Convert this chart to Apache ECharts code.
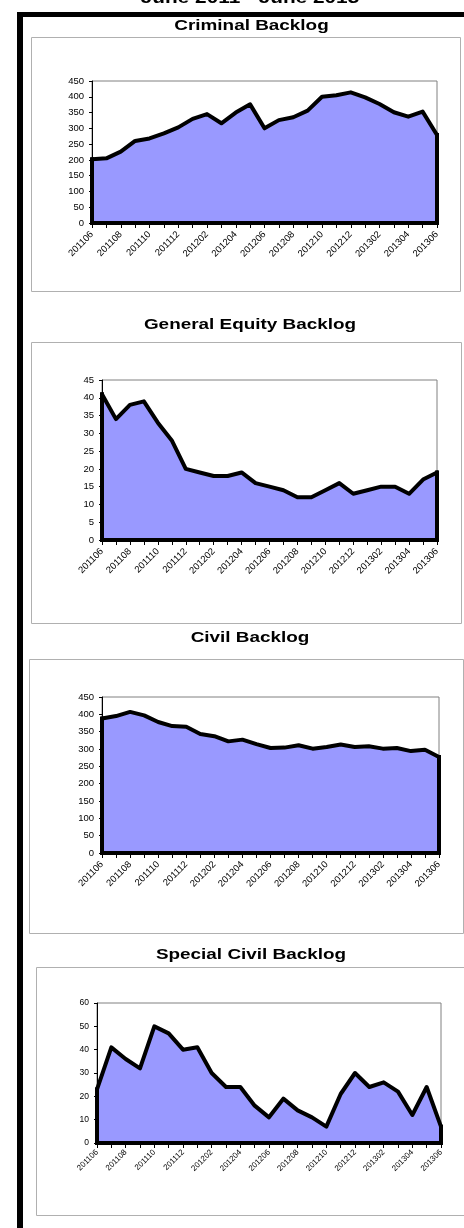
<!DOCTYPE html>
<html>
<head>
<meta charset="utf-8">
<style>
html,body{margin:0;padding:0;background:#fff;}
#c{width:464px;height:1228px;}
</style>
<script src="https://cdn.jsdelivr.net/npm/echarts@6/dist/echarts.min.js"></script>
</head>
<body>
<div id="c"></div>
<script>
// ---- data ----
const months = ['201106','201107','201108','201109','201110','201111','201112',
  '201201','201202','201203','201204','201205','201206','201207','201208','201209','201210','201211','201212',
  '201301','201302','201303','201304','201305','201306'];
const criminalBacklog = [202,205,226,260,268,284,303,330,345,316,350,376,300,326,335,356,400,405,414,398,377,351,337,353,279];
const generalEquityBacklog = [41,34,38,39,33,28,20,19,18,18,19,16,15,14,12,12,14,16,13,14,15,15,13,17,19];
const civilBacklog = [388,395,407,397,378,366,364,343,337,322,327,314,303,304,311,301,306,313,306,308,301,303,294,298,277];
const specialCivilBacklog = [23,41,36,32,50,47,40,41,30,24,24,16,11,19,14,11,7,21,30,24,26,22,12,24,7];
const criminalTicks = {max:450, step:50};
const equityTicks = {max:45, step:5};
const civilTicks = {max:450, step:50};
const specialTicks = {max:60, step:10};
const pageTitle = 'June 2011 - June 2013';
const chartTitles = ['Criminal Backlog','General Equity Backlog','Civil Backlog','Special Civil Backlog'];

// ---- layout ----
const panels = [
  {title:chartTitles[0], values:criminalBacklog, ticks:criminalTicks, tx:251.5, ty:26,
   box:{x:31, y:37, w:429, h:254, right:true}, grid:{left:92, top:81, width:345, height:142}, yfs:9.5, xfs:9.5, xm:10},
  {title:chartTitles[1], values:generalEquityBacklog, ticks:equityTicks, tx:250, ty:325,
   box:{x:31, y:342, w:430, h:281, right:true}, grid:{left:102, top:380, width:335, height:160}, yfs:9.5, xfs:9.5, xm:10},
  {title:chartTitles[2], values:civilBacklog, ticks:civilTicks, tx:250, ty:638,
   box:{x:29, y:659, w:434, h:274, right:true}, grid:{left:102, top:697, width:337, height:156}, yfs:9.5, xfs:9.5, xm:10},
  {title:chartTitles[3], values:specialCivilBacklog, ticks:specialTicks, tx:251, ty:955,
   box:{x:36, y:967, w:440, h:248, right:false}, grid:{left:97, top:1003, width:344, height:140}, yfs:8.5, xfs:8, xm:8}
];

const chart = echarts.init(document.getElementById('c'), null, {renderer:'canvas'});
const grids = [], xAxes = [], yAxes = [], series = [], graphics = [];

// black frame bars
graphics.push({type:'rect', shape:{x:17, y:12, width:447, height:5}, style:{fill:'#000'}, z:100});
graphics.push({type:'rect', shape:{x:17, y:12, width:6, height:1216}, style:{fill:'#000'}, z:100});
// page title (cut off at top)
graphics.push({type:'text', x:250, y:-2, scaleX:1.26, z:100,
  style:{text:pageTitle, fill:'#000', fontFamily:'Liberation Sans', fontWeight:'bold', fontSize:16.5, align:'center', verticalAlign:'middle'}});

panels.forEach((p, i) => {
  const b = p.box;
  const boxColor = '#b0b0b0';
  const x0 = b.x + 0.5, y0 = b.y + 0.5, x1 = b.x + b.w + 0.5, y1 = b.y + b.h + 0.5;
  const pts = b.right ? [[x0,y0],[x1,y0],[x1,y1],[x0,y1],[x0,y0]] : [[464,y0],[x0,y0],[x0,y1],[464,y1]];
  graphics.push({type:'polyline', shape:{points:pts}, style:{stroke:boxColor, lineWidth:1, fill:null}, z:1});
  graphics.push({type:'text', x:p.tx, y:p.ty, scaleX:1.26, z:100,
    style:{text:p.title, fill:'#000', fontFamily:'Liberation Sans', fontWeight:'bold', fontSize:15, align:'center', verticalAlign:'middle'}});

  grids.push(Object.assign({show:true, borderColor:'#808080', borderWidth:1, backgroundColor:'#fff', containLabel:false}, p.grid));
  xAxes.push({
    type:'category', gridIndex:i, data:months, boundaryGap:false,
    axisLine:{show:true, lineStyle:{color:'#000', width:1}},
    axisTick:{show:true, interval:0, length:5, lineStyle:{color:'#000', width:1}},
    axisLabel:{show:true, interval:1, rotate:45, margin:p.xm, color:'#000', fontFamily:'Liberation Sans', fontSize:p.xfs},
    splitLine:{show:false}
  });
  yAxes.push({
    type:'value', gridIndex:i, min:0, max:p.ticks.max, interval:p.ticks.step,
    axisLine:{show:true, lineStyle:{color:'#000', width:1}},
    axisTick:{show:true, length:3, lineStyle:{color:'#000', width:1}},
    axisLabel:{show:true, margin:8, color:'#000', fontFamily:'Liberation Sans', fontSize:p.yfs},
    splitLine:{show:false}
  });
  const first = months[0], last = months[months.length-1];
  const v = p.values;
  series.push({
    type:'line', xAxisIndex:i, yAxisIndex:i, data:v, symbol:'none', clip:false, silent:true,
    lineStyle:{color:'#000', width:4, join:'round', cap:'round'},
    areaStyle:{color:'#9999FF', opacity:1},
    emphasis:{disabled:true},
    z:3,
    markLine:{
      silent:true, symbol:['none','none'], animation:false,
      label:{show:false},
      lineStyle:{type:'solid', color:'#000', width:4, cap:'square'},
      emphasis:{disabled:true},
      data:[
        [{coord:[first, 0]}, {coord:[last, 0]}],
        [{coord:[first, 0]}, {coord:[first, v[0]]}],
        [{coord:[last, 0]}, {coord:[last, v[v.length-1]]}]
      ]
    }
  });
});

chart.setOption({animation:false, grid:grids, xAxis:xAxes, yAxis:yAxes, series:series, graphic:graphics});
</script>
</body>
</html>
